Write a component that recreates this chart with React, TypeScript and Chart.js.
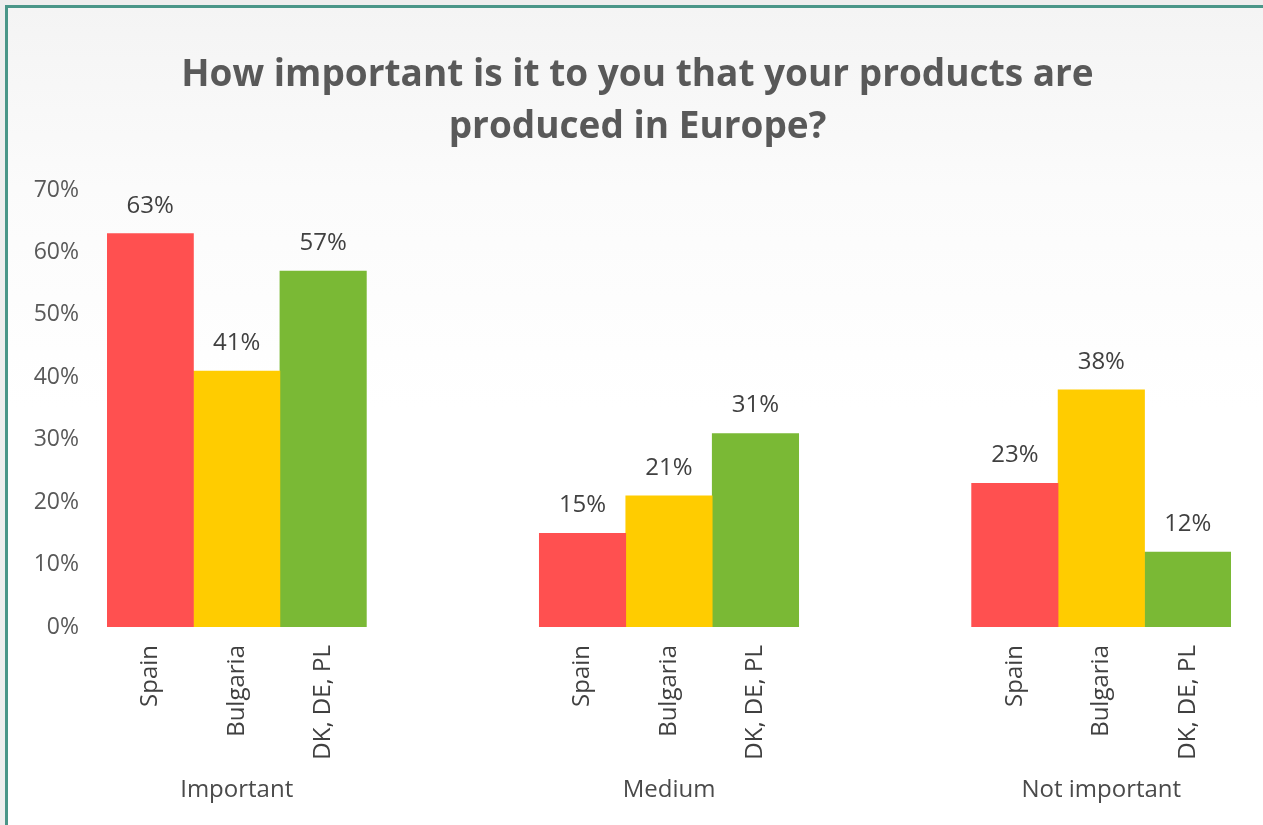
import React, { useEffect, useRef } from "react";
import { Chart, registerables } from "chart.js";

Chart.register(...registerables);

const titleLines = ["How important is it to you that your products are", "produced in Europe?"];
const groups = ["Important", "Medium", "Not important"];
const countries = ["Spain", "Bulgaria", "DK, DE, PL"];
const spainValues = [63, 15, 23];
const bulgariaValues = [41, 21, 38];
const dkValues = [57, 31, 12];
const yTicks = [0, 10, 20, 30, 40, 50, 60, 70];
const barColors = ["#FF5050", "#FFCC00", "#7AB935"];

const GAP_SLOTS = 2;
const FONT = "'Open Sans', 'Noto Sans', sans-serif";

function buildSlots() {
  const countryLabels: string[] = [];
  const groupLabels: string[] = [];
  groups.forEach((g, gi) => {
    countries.forEach((c, ci) => {
      countryLabels.push(c);
      groupLabels.push(ci === 1 ? g : "");
    });
    if (gi < groups.length - 1) {
      for (let k = 0; k < GAP_SLOTS; k++) {
        countryLabels.push("");
        groupLabels.push("");
      }
    }
  });
  return { countryLabels, groupLabels };
}

export default function App() {
  const ref = useRef<HTMLCanvasElement | null>(null);

  useEffect(() => {
    if (!ref.current) return;
    const { countryLabels, groupLabels } = buildSlots();
    const series = [spainValues, bulgariaValues, dkValues];
    const step = countries.length + GAP_SLOTS;
    const datasets = countries.map((c, ci) => {
      const data: (number | null)[] = countryLabels.map(() => null);
      series[ci].forEach((v, gi) => {
        data[gi * step + ci] = v;
      });
      return {
        label: c,
        data,
        backgroundColor: barColors[ci],
        borderWidth: 0,
        barPercentage: 1,
        categoryPercentage: 1,
        grouped: false,
      };
    });

    const titlePlugin = {
      id: "titleDraw",
      afterDraw(chart: any) {
        const ctx = chart.ctx;
        ctx.save();
        ctx.fillStyle = "#595959";
        ctx.font = `bold 37px ${FONT}`;
        ctx.textAlign = "center";
        ctx.textBaseline = "alphabetic";
        const cx = chart.width / 2 + 6;
        ctx.fillText(titleLines[0], cx, 86);
        ctx.fillText(titleLines[1], cx, 138);
        ctx.restore();
      },
    };

    const labelPlugin = {
      id: "valueLabels",
      afterDatasetsDraw(chart: any) {
        const ctx = chart.ctx;
        ctx.save();
        ctx.fillStyle = "#404040";
        ctx.font = `24px ${FONT}`;
        ctx.textAlign = "center";
        ctx.textBaseline = "alphabetic";
        chart.data.datasets.forEach((ds: any, di: number) => {
          const meta = chart.getDatasetMeta(di);
          meta.data.forEach((bar: any, i: number) => {
            const v = ds.data[i];
            if (v === null || v === undefined) return;
            ctx.fillText(`${v}%`, bar.x, bar.y - 21);
          });
        });
        ctx.restore();
      },
    };

    const chart = new Chart(ref.current, {
      type: "bar",
      data: { labels: countryLabels, datasets: datasets as any },
      options: {
        animation: false,
        responsive: true,
        maintainAspectRatio: false,
        layout: { padding: { left: 0, right: 32, top: 190, bottom: 6 } },
        plugins: {
          legend: { display: false },
          title: { display: false },
          tooltip: { enabled: false },
        },
        scales: {
          x: {
            type: "category",
            offset: true,
            weight: 1,
            grid: { display: false, drawTicks: false },
            border: { display: false },
            ticks: {
              autoSkip: false,
              minRotation: 90,
              maxRotation: 90,
              padding: 18,
              color: "#404040",
              font: { family: FONT, size: 24 },
            },
            afterFit(scale: any) {
              scale.height = 140;
            },
          },
          x2: {
            type: "category",
            position: "bottom",
            labels: groupLabels,
            offset: true,
            weight: 2,
            grid: { display: false, drawTicks: false },
            border: { display: false },
            ticks: {
              autoSkip: false,
              minRotation: 0,
              maxRotation: 0,
              padding: 9,
              color: "#4a4a4a",
              font: { family: FONT, size: 24 },
            },
            afterFit(scale: any) {
              scale.height = 52;
            },
          },
          y: {
            min: 0,
            max: 70,
            grid: { display: false, drawTicks: false },
            border: { display: false },
            afterBuildTicks(scale: any) {
              scale.ticks = yTicks.map((v) => ({ value: v }));
            },
            ticks: {
              padding: 28,
              color: "#595959",
              font: { family: FONT, size: 23 },
              callback: (v: any) => `${v}%`,
            },
            afterFit(scale: any) {
              scale.width = 107;
            },
          },
        },
      },
      plugins: [titlePlugin, labelPlugin],
    });
    return () => chart.destroy();
  }, []);

  return (
    <div
      style={{
        position: "fixed",
        left: 0,
        top: 0,
        width: 1263,
        height: 825,
        overflow: "hidden",
        background: "#eeeeee",
      }}
    >
      <div
        style={{
          position: "absolute",
          left: 5,
          top: 5,
          width: 1320,
          height: 900,
          border: "3px solid #4A9688",
          background: "linear-gradient(#f4f4f4 0px, #fbfbfb 180px, #ffffff 400px)",
          boxSizing: "border-box",
        }}
      />
      <div style={{ position: "absolute", left: 0, top: 0, width: 1263, height: 825 }}>
        <canvas ref={ref} />
      </div>
    </div>
  );
}
